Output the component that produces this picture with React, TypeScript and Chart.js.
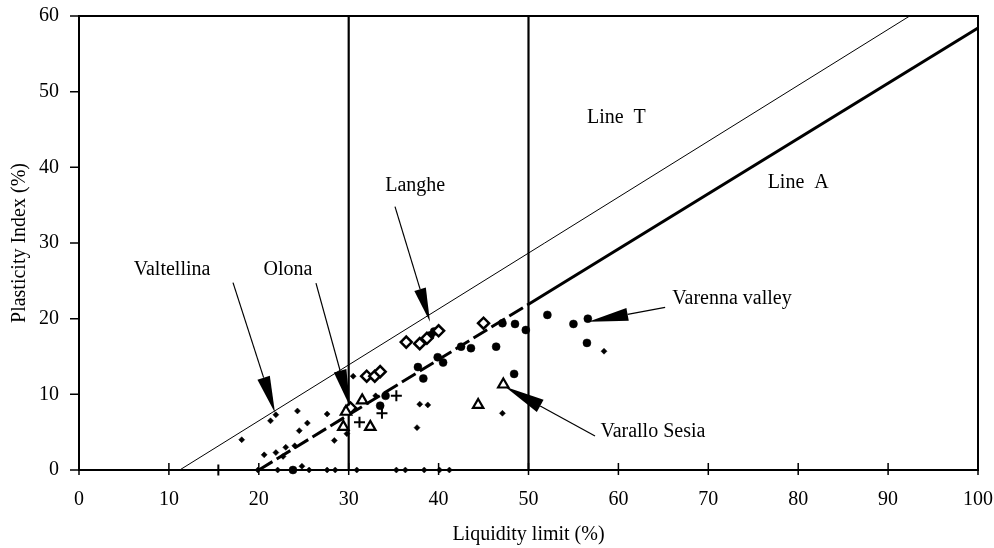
import React, { useEffect, useRef } from "react";
import { Chart, registerables } from "chart.js";

Chart.register(...registerables);

// ---- axis ticks ----
const xTickValues = [0, 10, 20, 30, 40, 50, 60, 70, 80, 90, 100];
const yTickValues = [0, 10, 20, 30, 40, 50, 60];
const xTitle = "Liquidity limit (%)";
const yTitle = "Plasticity Index (%)";

// ---- data points [liquidity limit, plasticity index] ----
const smallDiamonds: number[][] = [
  [18.1, 4.0], [20.6, 2.0], [21.3, 6.5], [21.9, 7.3], [21.9, 2.3], [22.7, 1.8],
  [23.0, 3.0], [24.0, 3.2], [24.3, 7.8], [24.5, 5.2], [25.4, 6.2], [27.6, 7.4],
  [28.4, 3.9], [29.8, 4.8], [30.5, 12.4], [33.0, 9.8], [37.6, 5.6], [37.9, 8.7],
  [38.8, 8.6], [47.1, 7.5], [58.4, 15.7],
  [19.9, 0], [22.1, 0], [24.8, 0.5], [25.6, 0], [27.6, 0], [28.5, 0], [30.9, 0],
  [35.3, 0], [36.3, 0], [38.4, 0], [40.1, 0], [41.2, 0],
];
const filledCircles: number[][] = [
  [23.8, 0], [33.5, 8.5], [34.1, 9.8], [37.7, 13.6], [38.3, 12.1], [39.9, 14.9],
  [40.5, 14.2], [42.5, 16.3], [43.6, 16.1], [46.4, 16.3], [47.1, 19.4], [48.5, 19.3],
  [49.7, 18.5], [52.1, 20.5], [55.0, 19.3], [56.6, 20.0], [56.5, 16.8], [48.4, 12.7],
  [39.1, 17.8], [39.5, 18.3],
];
const openDiamonds: number[][] = [
  [30.2, 8.2], [32.0, 12.4], [32.9, 12.4], [33.5, 13.0], [36.4, 16.9], [37.9, 16.7],
  [38.7, 17.4], [40.0, 18.4], [45.0, 19.4],
];
const openTriangles: number[][] = [
  [29.4, 5.7], [29.7, 7.7], [31.5, 9.2], [32.4, 5.7], [44.4, 8.6], [47.2, 11.3],
];
const plusPoints: number[][] = [
  [15.5, 0], [31.2, 6.3], [33.7, 7.5], [35.3, 9.8],
];

// ---- reference lines ----
const lineAX = [20, 50, 100];
const lineAY = [0, 21.9, 58.4];
const lineTX = [11.2, 92.4];
const lineTY = [0, 60];
const vLine30X = [30, 30];
const vLine50X = [50, 50];
const vLineY = [0, 60];

// ---- annotations (data coordinates) ----
const textLabels = [
  { text: "Valtellina", x: 10.35, y: 26.5, align: "center" },
  { text: "Olona", x: 23.25, y: 26.5, align: "center" },
  { text: "Langhe", x: 37.4, y: 37.6, align: "center" },
  { text: "Line  T", x: 56.5, y: 46.6, align: "left" },
  { text: "Line  A", x: 76.6, y: 38.0, align: "left" },
  { text: "Varenna valley", x: 66.0, y: 22.6, align: "left" },
  { text: "Varallo Sesia", x: 58.0, y: 5.0, align: "left" },
];
const arrows = [
  { fromX: 17.13, fromY: 24.77, toX: 21.8, toY: 7.55, head: 37, half: 6.5 },
  { fromX: 26.36, fromY: 24.7, toX: 30.14, toY: 8.4, head: 37, half: 6.5 },
  { fromX: 35.15, fromY: 34.8, toX: 39.04, toY: 19.6, head: 34, half: 6 },
  { fromX: 65.2, fromY: 21.5, toX: 56.65, toY: 19.6, head: 40, half: 6.5 },
  { fromX: 57.4, fromY: 4.5, toX: 47.4, toY: 11.0, head: 40, half: 7 },
];

const toXY = (arr: number[][]) => arr.map(([x, y]) => ({ x, y }));
const zipXY = (xs: number[], ys: number[]) => xs.map((x, i) => ({ x, y: ys[i] }));

const FONT = "'Liberation Serif', 'Times New Roman', serif";

const overlay = {
  id: "overlay",
  afterDatasetsDraw(chart: any) {
    const { ctx, chartArea: a, scales } = chart;
    const xs = scales.x;
    const ys = scales.y;
    ctx.save();
    ctx.strokeStyle = "#000";
    ctx.fillStyle = "#000";
    // frame
    ctx.lineWidth = 2;
    ctx.strokeRect(a.left, a.top, a.right - a.left, a.bottom - a.top);
    // ticks
    ctx.lineWidth = 1.5;
    ctx.beginPath();
    for (const v of xTickValues) {
      const px = xs.getPixelForValue(v);
      ctx.moveTo(px, a.bottom - 7);
      ctx.lineTo(px, a.bottom + 5);
    }
    for (const v of yTickValues) {
      const py = ys.getPixelForValue(v);
      ctx.moveTo(a.left - 9, py);
      ctx.lineTo(a.left, py);
    }
    ctx.stroke();
    // text labels
    ctx.font = `20px ${FONT}`;
    ctx.textBaseline = "middle";
    for (const t of textLabels) {
      ctx.textAlign = t.align;
      ctx.fillText(t.text, xs.getPixelForValue(t.x), ys.getPixelForValue(t.y));
    }
    // arrows
    for (const ar of arrows) {
      const x0 = xs.getPixelForValue(ar.fromX);
      const y0 = ys.getPixelForValue(ar.fromY);
      const x1 = xs.getPixelForValue(ar.toX);
      const y1 = ys.getPixelForValue(ar.toY);
      const dx = x1 - x0;
      const dy = y1 - y0;
      const len = Math.hypot(dx, dy);
      const ux = dx / len;
      const uy = dy / len;
      const bx = x1 - ux * ar.head;
      const by = y1 - uy * ar.head;
      ctx.lineWidth = 1.2;
      ctx.beginPath();
      ctx.moveTo(x0, y0);
      ctx.lineTo(bx, by);
      ctx.stroke();
      ctx.beginPath();
      ctx.moveTo(x1, y1);
      ctx.lineTo(bx - uy * ar.half, by + ux * ar.half);
      ctx.lineTo(bx + uy * ar.half, by - ux * ar.half);
      ctx.closePath();
      ctx.fill();
    }
    ctx.restore();
  },
};

export default function App() {
  const ref = useRef<HTMLCanvasElement | null>(null);
  useEffect(() => {
    if (!ref.current) return;
    const chart = new Chart(ref.current, {
      type: "scatter",
      data: {
        datasets: [
          {
            label: "plus",
            data: toXY(plusPoints),
            pointStyle: "cross",
            pointRadius: 5.5,
            borderColor: "#000",
            borderWidth: 2,
            clip: false,
          },
          {
            label: "open triangles",
            data: toXY(openTriangles),
            pointStyle: "triangle",
            pointRadius: 6,
            backgroundColor: "#fff",
            borderColor: "#000",
            borderWidth: 2.2,
            clip: false,
          },
          {
            label: "open diamonds",
            data: toXY(openDiamonds),
            pointStyle: "rectRot",
            pointRadius: 5.5,
            backgroundColor: "#fff",
            borderColor: "#000",
            borderWidth: 2.5,
            clip: false,
          },
          {
            label: "filled circles",
            data: toXY(filledCircles),
            pointStyle: "circle",
            pointRadius: 4,
            backgroundColor: "#000",
            borderColor: "#000",
            borderWidth: 0.5,
            clip: false,
          },
          {
            label: "small diamonds",
            data: toXY(smallDiamonds),
            pointStyle: "rectRot",
            pointRadius: 3,
            backgroundColor: "#000",
            borderColor: "#000",
            borderWidth: 0.5,
            clip: false,
          },
          {
            label: "Line A",
            data: zipXY(lineAX, lineAY),
            showLine: true,
            pointRadius: 0,
            borderColor: "#000",
            borderWidth: 3,
            segment: {
              borderDash: (c: any) => (c.p0DataIndex === 0 ? [16, 5] : undefined),
            },
          },
          {
            label: "Line T",
            data: zipXY(lineTX, lineTY),
            showLine: true,
            pointRadius: 0,
            borderColor: "#000",
            borderWidth: 1,
          },
          {
            label: "LL 30",
            data: zipXY(vLine30X, vLineY),
            showLine: true,
            pointRadius: 0,
            borderColor: "#000",
            borderWidth: 2.2,
          },
          {
            label: "LL 50",
            data: zipXY(vLine50X, vLineY),
            showLine: true,
            pointRadius: 0,
            borderColor: "#000",
            borderWidth: 2.2,
          },
        ],
      },
      options: {
        animation: false,
        responsive: false,
        devicePixelRatio: 1,
        layout: { padding: { left: 0, top: 16, right: 16, bottom: 0 } },
        plugins: {
          legend: { display: false },
          tooltip: { enabled: false },
        },
        scales: {
          x: {
            type: "linear",
            min: 0,
            max: 100,
            afterBuildTicks: (s: any) => {
              s.ticks = xTickValues.map((v) => ({ value: v }));
            },
            afterFit: (s: any) => {
              s.height = 78;
              s.paddingLeft = 0;
              s.paddingRight = 0;
              s.paddingTop = 0;
              s.paddingBottom = 0;
            },
            grid: { display: false, drawTicks: false, tickLength: 0 },
            border: { display: false },
            ticks: {
              color: "#000",
              padding: 18,
              maxRotation: 0,
              font: { family: FONT, size: 20 },
            },
            title: {
              display: true,
              text: xTitle,
              color: "#000",
              font: { family: FONT, size: 20 },
              padding: { top: 0, bottom: 1 },
            },
          },
          y: {
            type: "linear",
            min: 0,
            max: 60,
            afterBuildTicks: (s: any) => {
              s.ticks = yTickValues.map((v) => ({ value: v }));
            },
            afterFit: (s: any) => {
              s.width = 79;
              s.paddingLeft = 0;
              s.paddingRight = 0;
              s.paddingTop = 0;
              s.paddingBottom = 0;
            },
            grid: { display: false, drawTicks: false, tickLength: 0 },
            border: { display: false },
            ticks: {
              color: "#000",
              padding: 20,
              font: { family: FONT, size: 20 },
            },
            title: {
              display: true,
              text: yTitle,
              color: "#000",
              font: { family: FONT, size: 20 },
              padding: { top: 8, bottom: 0 },
            },
          },
        },
      },
      plugins: [overlay],
    } as any);
    return () => chart.destroy();
  }, []);
  return (
    <div style={{ position: "absolute", left: 0, top: 0, width: 994, height: 548, background: "#fff" }}>
      <canvas ref={ref} width={994} height={548} style={{ display: "block" }} />
    </div>
  );
}
